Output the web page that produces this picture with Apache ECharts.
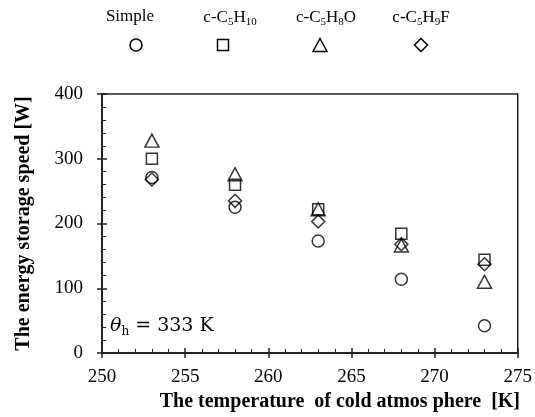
<!DOCTYPE html>
<html lang="en">
<head>
  <meta charset="UTF-8" />
  <title>Energy storage speed</title>
  <script src="https://cdn.jsdelivr.net/npm/echarts@6/dist/echarts.min.js"></script>
  <style>
    html, body { margin: 0; padding: 0; background: #fff; }
    #main { width: 535px; height: 417px; }
  </style>
</head>
<body>
  <div id="main"></div>
  <script>
    // 数据
    var temps = [253, 258, 263, 268, 273];
    var simple = [271, 225, 173, 114, 42];
    var c5h10 = [300, 260, 222, 184, 144];
    var c5h8o = [328, 276, 222, 166, 110];
    var c5h9f = [268, 235, 203, 168, 137];
    var xTicks = [250, 255, 260, 265, 270, 275];
    var yTicks = [0, 100, 200, 300, 400];

    var legendLabels = [
      'Simple',
      '{a|c-C}{s|5}{a|H}{s|10}',
      '{a|c-C}{s|5}{a|H}{s|8}{a|O}',
      '{a|c-C}{s|5}{a|H}{s|9}{a|F}'
    ];

    var serif = 'Liberation Serif';
    var ink = '#222';

    function pairs(ys) {
      return temps.map(function (t, i) { return [t, ys[i]]; });
    }

    function scatter(name, ys, symbol, size) {
      return {
        name: name,
        type: 'scatter',
        symbol: symbol,
        symbolSize: size,
        data: pairs(ys),
        itemStyle: { color: 'rgba(0,0,0,0)', borderColor: '#000', borderWidth: 1.5 }
      };
    }

    var richSub = {
      a: { fontFamily: serif, fontSize: 17, color: '#000', lineHeight: 20 },
      s: { fontFamily: serif, fontSize: 11, color: '#000', lineHeight: 20, verticalAlign: 'bottom', padding: [6, 0, 0, 0] }
    };

    // 图例文字居中放置
    function legendText(x, label) {
      return {
        type: 'text', x: x, y: 8,
        style: { text: label, rich: richSub, font: '17px "' + serif + '"', fill: '#000', align: 'center', verticalAlign: 'top' }
      };
    }

    var stroke = { fill: 'none', stroke: '#000', lineWidth: 1.5 };

    var myChart = echarts.init(document.getElementById('main'));

    var option = {
      animation: false,
      grid: { left: 102, right: 17, top: 94, bottom: 64, show: true, borderColor: ink, borderWidth: 1.5 },
      xAxis: [
        {
          type: 'value', min: xTicks[0], max: xTicks[xTicks.length - 1], interval: 5, position: 'bottom',
          name: 'The temperature  of cold atmos phere  [K]', nameLocation: 'middle', nameGap: 39,
          nameTextStyle: { fontFamily: serif, fontSize: 20, fontWeight: 'bold', color: '#000', padding: [0, 0, 0, 60] },
          axisLine: { lineStyle: { color: ink, width: 2 } },
          axisTick: { inside: true, length: 5, lineStyle: { color: ink, width: 1.5 } },
          minorTick: { show: true, splitNumber: 5, length: 4, lineStyle: { color: ink, width: 1 } },
          axisLabel: { fontFamily: serif, fontSize: 19, color: '#000', margin: 15 },
          splitLine: { show: false }
        },
        {
          type: 'value', min: xTicks[0], max: xTicks[xTicks.length - 1], interval: 5, position: 'bottom',
          axisLine: { show: false },
          axisTick: { inside: false, length: 5, lineStyle: { color: ink, width: 1.5 } },
          axisLabel: { show: false },
          splitLine: { show: false }
        }
      ],
      yAxis: [
        {
          type: 'value', min: yTicks[0], max: yTicks[yTicks.length - 1], interval: 100, position: 'left',
          name: 'The energy storage speed [W]', nameLocation: 'middle', nameGap: 68,
          nameTextStyle: { fontFamily: serif, fontSize: 20, fontWeight: 'bold', color: '#000' },
          axisLine: { show: true, lineStyle: { color: ink, width: 2 } },
          axisTick: { show: true, inside: true, length: 5, lineStyle: { color: ink, width: 1.5 } },
          minorTick: { show: true, splitNumber: 5, length: 4, lineStyle: { color: ink, width: 1 } },
          axisLabel: { fontFamily: serif, fontSize: 19, color: '#000', margin: 19 },
          splitLine: { show: false }
        },
        {
          type: 'value', min: yTicks[0], max: yTicks[yTicks.length - 1], interval: 100, position: 'left',
          axisLine: { show: false },
          axisTick: { show: true, inside: false, length: 5, lineStyle: { color: ink, width: 1.5 } },
          axisLabel: { show: false },
          splitLine: { show: false }
        }
      ],
      series: [
        scatter('Simple', simple, 'circle', 12),
        scatter('c-C5H10', c5h10, 'rect', 11),
        scatter('c-C5H8O', c5h8o, 'triangle', [14, 13]),
        scatter('c-C5H9F', c5h9f, 'diamond', [13, 13])
      ],
      graphic: [
        legendText(130, legendLabels[0]),
        legendText(230, legendLabels[1]),
        legendText(326, legendLabels[2]),
        legendText(421, legendLabels[3]),
        { type: 'circle', shape: { cx: 136, cy: 45, r: 6 }, style: stroke },
        { type: 'rect', shape: { x: 217.5, y: 39.5, width: 11, height: 11 }, style: stroke },
        { type: 'polygon', shape: { points: [[320, 38.5], [327, 51.5], [313, 51.5]] }, style: stroke },
        { type: 'polygon', shape: { points: [[421, 38.5], [427.5, 45], [421, 51.5], [414.5, 45]] }, style: stroke },
        {
          type: 'text', left: 110, top: 317,
          style: {
            text: '{t|θ}{s|h}{n| = 333 K}',
            rich: {
              t: { fontFamily: 'DejaVu Serif', fontStyle: 'italic', fontSize: 19, color: '#222', lineHeight: 23 },
              s: { fontFamily: 'DejaVu Serif', fontSize: 12, color: '#222', lineHeight: 23, verticalAlign: 'bottom', padding: [7, 0, 0, 0] },
              n: { fontFamily: 'DejaVu Serif', fontSize: 19, color: '#222', lineHeight: 23 }
            }
          }
        }
      ]
    };

    myChart.setOption(option);
  </script>
</body>
</html>
